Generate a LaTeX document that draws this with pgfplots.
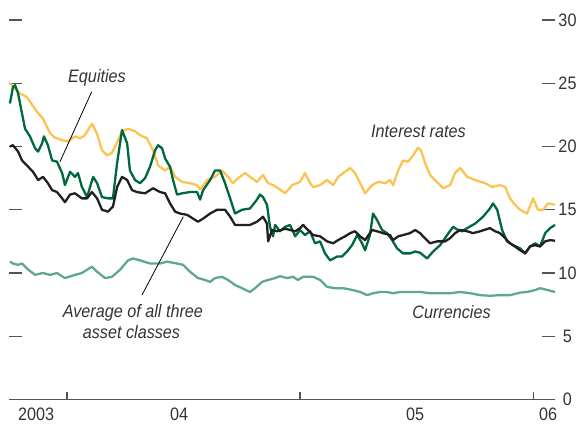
\documentclass[border=0pt]{standalone}
\usepackage{fontspec}
\setmainfont{Liberation Sans}[FakeStretch=0.9]
\usepackage{pgfplots}
\pgfplotsset{compat=1.18}
\definecolor{irate}{HTML}{FDC350}
\definecolor{equit}{HTML}{00683A}
\definecolor{avgc}{HTML}{231F20}
\definecolor{curr}{HTML}{5FA88A}
\definecolor{txt}{HTML}{333333}
\definecolor{axc}{HTML}{555555}
\begin{document}
\begin{tikzpicture}
\path[use as bounding box] (-9pt,-24.5pt) rectangle (569pt,399.5pt);
\begin{axis}[
  at={(0,0)}, anchor=south west,
  scale only axis, width=546pt, height=379.5pt,
  xmin=2003.751, xmax=2006.094, ymin=0, ymax=30,
  axis line style={draw=none},
  ytick={0,5,10,15,20,25,30},
  ytick pos=both, yticklabel pos=right,
  tick align=inside,
  y tick style={axc, line width=1.3pt},
  major tick length=13pt,
  yticklabel style={anchor=center, xshift=12.5pt, text=txt},
  xtick={2003.867,2004.481,2005.494,2006.064},
  xticklabels={2003,04,05,06},
  xtick pos=bottom,
  x tick style={draw=none},
  xticklabel style={anchor=base, yshift=-20.5pt, text=txt},
  extra x ticks={2004,2005,2006},
  extra x tick labels={},
  extra x tick style={major tick length=8pt,
     every x tick/.style={draw=axc, line width=1.2pt}},
  /pgf/number format/assume math mode=true,
  tick label style={font=\fontsize{18}{21}\selectfont},
  every axis plot/.append style={line width=2.3pt, line join=round},
  clip=false,
]
% Interest rates
\addplot[irate] coordinates {
(2003.755,25.0)(2003.798,24.2)(2003.828,23.9)(2003.871,22.75)(2003.897,22.2)
(2003.927,21.05)(2003.948,20.7)(2003.979,20.5)(2004.004,20.4)(2004.034,20.8)
(2004.056,20.65)(2004.077,20.9)(2004.107,21.8)(2004.129,21.0)(2004.150,19.7)
(2004.172,19.3)(2004.193,19.5)(2004.219,20.5)(2004.236,21.2)(2004.262,21.4)
(2004.292,21.2)(2004.313,20.9)(2004.343,20.65)(2004.369,19.7)(2004.391,18.5)
(2004.421,18.1)(2004.442,18.4)(2004.464,17.6)(2004.494,17.2)(2004.528,17.1)
(2004.558,16.95)(2004.571,16.6)(2004.601,17.35)(2004.635,17.6)(2004.665,18.1)
(2004.691,17.6)(2004.712,17.1)(2004.734,17.5)(2004.764,17.9)(2004.785,17.6)
(2004.815,17.2)(2004.841,17.75)(2004.863,17.1)(2004.884,16.95)(2004.906,16.7)
(2004.936,16.3)(2004.966,16.95)(2005.000,17.2)(2005.021,17.9)(2005.043,17.1)
(2005.056,16.8)(2005.086,16.95)(2005.116,17.35)(2005.142,16.95)(2005.163,17.6)
(2005.193,18.0)(2005.215,18.3)(2005.236,17.9)(2005.258,17.1)(2005.279,16.3)
(2005.309,16.95)(2005.335,17.2)(2005.365,17.1)(2005.386,17.35)(2005.399,16.95)
(2005.421,18.1)(2005.442,18.9)(2005.464,18.8)(2005.485,19.3)(2005.506,19.9)
(2005.519,19.7)(2005.536,18.7)(2005.558,17.75)(2005.579,17.35)(2005.614,16.7)
(2005.644,16.95)(2005.665,17.9)(2005.687,18.3)(2005.717,17.6)(2005.751,17.35)
(2005.794,17.1)(2005.824,16.8)(2005.858,16.95)(2005.880,16.8)(2005.901,15.9)
(2005.922,15.4)(2005.944,15.0)(2005.974,14.7)(2006.000,15.9)(2006.021,15.0)
(2006.043,15.0)(2006.064,15.5)(2006.094,15.4)
};
% Currencies
\addplot[curr] coordinates {
(2003.755,10.9)(2003.768,10.75)(2003.790,10.65)(2003.807,10.75)(2003.828,10.35)
(2003.863,9.85)(2003.897,10.0)(2003.927,9.85)(2003.957,10.0)(2003.991,9.6)
(2004.034,9.85)(2004.064,10.0)(2004.107,10.5)(2004.129,10.1)(2004.163,9.6)
(2004.193,9.7)(2004.227,10.25)(2004.262,11.0)(2004.283,11.15)(2004.313,11.0)
(2004.356,10.75)(2004.399,10.75)(2004.429,10.9)(2004.472,10.75)(2004.498,10.65)
(2004.528,10.1)(2004.562,9.6)(2004.592,9.45)(2004.614,9.3)(2004.635,9.6)
(2004.665,9.7)(2004.691,9.45)(2004.721,9.05)(2004.751,8.8)(2004.785,8.5)
(2004.807,8.8)(2004.837,9.3)(2004.863,9.45)(2004.893,9.6)(2004.914,9.75)
(2004.944,9.6)(2004.970,9.7)(2004.991,9.45)(2005.013,9.7)(2005.056,9.7)
(2005.086,9.45)(2005.116,8.9)(2005.150,8.8)(2005.185,8.8)(2005.227,8.65)
(2005.258,8.5)(2005.288,8.25)(2005.313,8.4)(2005.343,8.5)(2005.373,8.5)
(2005.399,8.4)(2005.429,8.5)(2005.472,8.5)(2005.515,8.5)(2005.558,8.4)
(2005.601,8.4)(2005.644,8.4)(2005.687,8.5)(2005.730,8.4)(2005.773,8.25)
(2005.815,8.2)(2005.858,8.25)(2005.901,8.25)(2005.944,8.45)(2005.974,8.5)
(2006.009,8.65)(2006.030,8.8)(2006.052,8.7)(2006.073,8.6)(2006.094,8.5)
};
% Equities
\addplot[equit] coordinates {
(2003.755,23.4)(2003.768,24.7)(2003.777,24.85)(2003.790,24.2)(2003.807,22.6)
(2003.820,21.4)(2003.841,20.8)(2003.863,19.85)(2003.876,19.6)(2003.893,20.25)
(2003.901,20.8)(2003.918,20.1)(2003.936,18.9)(2003.957,18.8)(2003.979,17.9)
(2003.991,16.95)(2004.013,18.0)(2004.034,17.6)(2004.047,17.9)(2004.064,16.8)
(2004.086,16.0)(2004.112,17.6)(2004.129,17.1)(2004.150,16.0)(2004.176,15.9)
(2004.197,15.9)(2004.215,18.7)(2004.236,21.3)(2004.258,20.25)(2004.270,18.1)
(2004.292,17.35)(2004.313,17.1)(2004.335,17.5)(2004.356,18.4)(2004.378,19.7)
(2004.391,20.1)(2004.408,19.85)(2004.421,19.05)(2004.442,18.4)(2004.455,17.35)
(2004.472,16.2)(2004.494,16.3)(2004.528,16.4)(2004.558,16.4)(2004.571,15.8)
(2004.584,16.55)(2004.614,17.35)(2004.635,18.1)(2004.657,18.1)(2004.678,17.1)
(2004.700,15.9)(2004.721,14.7)(2004.751,15.0)(2004.785,15.1)(2004.798,15.4)
(2004.815,15.8)(2004.828,16.2)(2004.841,16.0)(2004.858,15.4)(2004.871,13.65)
(2004.884,12.9)(2004.893,13.8)(2004.914,13.3)(2004.936,13.65)(2004.957,13.8)
(2004.979,12.9)(2005.000,13.4)(2005.021,13.0)(2005.043,13.3)(2005.064,12.35)
(2005.086,12.5)(2005.107,11.55)(2005.129,11.0)(2005.159,11.3)(2005.180,11.3)
(2005.202,11.7)(2005.223,12.2)(2005.245,13.0)(2005.266,12.35)(2005.279,11.8)
(2005.300,13.0)(2005.313,14.7)(2005.330,14.2)(2005.352,13.4)(2005.373,13.15)
(2005.395,12.6)(2005.416,11.95)(2005.442,11.55)(2005.472,11.55)(2005.494,11.7)
(2005.515,11.6)(2005.545,11.15)(2005.571,11.7)(2005.601,12.2)(2005.631,13.0)
(2005.657,13.65)(2005.678,13.4)(2005.695,13.3)(2005.717,13.55)(2005.751,13.9)
(2005.785,14.45)(2005.815,15.1)(2005.828,15.5)(2005.846,15.0)(2005.867,13.4)
(2005.888,12.5)(2005.914,12.2)(2005.944,11.95)(2005.966,11.55)(2005.987,12.1)
(2006.009,12.35)(2006.030,12.1)(2006.052,13.15)(2006.073,13.55)(2006.094,13.8)
};
% Average
\addplot[avgc] coordinates {
(2003.755,20.0)(2003.768,20.1)(2003.790,19.6)(2003.807,18.9)(2003.828,18.5)
(2003.854,18.0)(2003.876,17.35)(2003.897,17.6)(2003.918,17.1)(2003.936,16.55)
(2003.957,16.4)(2003.979,15.9)(2003.991,15.6)(2004.013,16.2)(2004.034,16.3)
(2004.064,15.9)(2004.086,15.9)(2004.107,16.4)(2004.129,15.9)(2004.150,15.0)
(2004.176,14.85)(2004.197,15.25)(2004.215,16.8)(2004.236,17.6)(2004.258,17.35)
(2004.279,16.55)(2004.300,16.4)(2004.335,16.3)(2004.369,16.7)(2004.399,16.4)
(2004.421,16.3)(2004.442,15.5)(2004.464,14.85)(2004.485,14.7)(2004.515,14.6)
(2004.541,14.3)(2004.562,14.05)(2004.584,14.3)(2004.614,14.7)(2004.644,15.0)
(2004.678,15.0)(2004.700,14.45)(2004.721,13.8)(2004.751,13.8)(2004.785,13.8)
(2004.815,14.05)(2004.841,14.45)(2004.858,13.9)(2004.863,12.5)(2004.880,13.4)
(2004.901,13.3)(2004.936,13.5)(2004.957,13.4)(2004.979,13.3)(2005.000,13.55)
(2005.013,13.8)(2005.034,13.4)(2005.056,13.0)(2005.086,12.9)(2005.116,12.5)
(2005.142,12.35)(2005.163,12.6)(2005.193,12.9)(2005.215,13.15)(2005.236,13.3)
(2005.258,12.9)(2005.279,12.6)(2005.309,13.4)(2005.330,13.3)(2005.356,13.15)
(2005.386,13.0)(2005.399,12.6)(2005.421,12.9)(2005.442,13.0)(2005.472,13.15)
(2005.494,13.4)(2005.515,13.15)(2005.536,12.75)(2005.558,12.35)(2005.588,12.5)
(2005.622,12.5)(2005.644,12.75)(2005.665,13.15)(2005.687,13.4)(2005.717,13.3)
(2005.742,13.15)(2005.773,13.3)(2005.815,13.55)(2005.837,13.3)(2005.858,13.15)
(2005.880,12.75)(2005.901,12.35)(2005.922,12.1)(2005.944,11.8)(2005.966,11.55)
(2005.987,12.1)(2006.009,12.2)(2006.030,12.1)(2006.052,12.5)(2006.073,12.6)
(2006.094,12.55)
};
\end{axis}
\draw[axc, line width=1.3pt] (0,0) -- (546pt,0);
\begin{scope}[every node/.style={font=\fontsize{18}{21}\selectfont\itshape, text=txt, inner sep=0pt, anchor=base}]
\node at (88pt,316.8pt) {Equities};
\node at (409.5pt,262.2pt) {Interest rates};
\node at (123.9pt,82.5pt) {Average of all three};
\node at (122.5pt,61.5pt) {asset classes};
\node at (442.5pt,81.5pt) {Currencies};
\end{scope}
\draw[black, line width=0.8pt] (82.7pt,307.8pt) -- (51pt,237.8pt);
\draw[black, line width=0.8pt] (174.3pt,182.8pt) -- (133pt,104.5pt);
\end{tikzpicture}
\end{document}
